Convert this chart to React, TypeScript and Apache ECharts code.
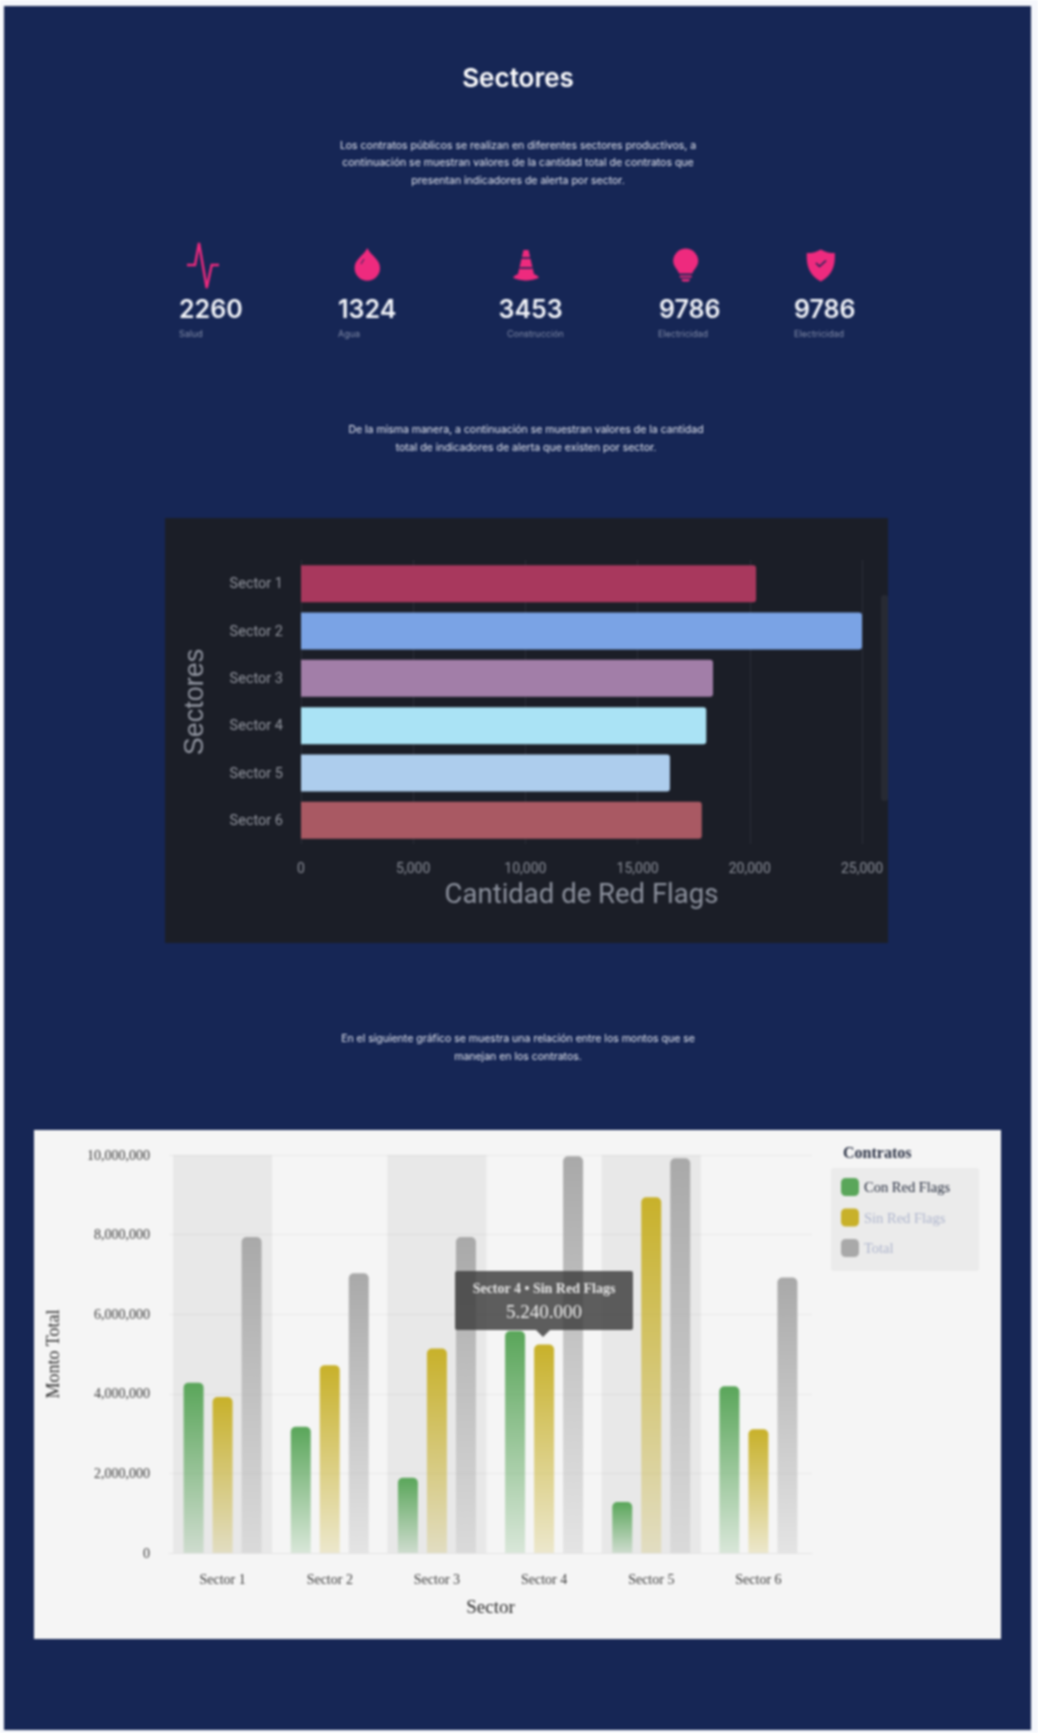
import React, { useEffect, useRef } from "react";
import * as echarts from "echarts";

const pageTitle = "Sectores";
const introLines = [
  "Los contratos públicos se realizan en diferentes sectores productivos, a",
  "continuación se muestran valores de la cantidad total de contratos que",
  "presentan indicadores de alerta por sector.",
];
const secondLines = [
  "De la misma manera, a continuación se muestran valores de la cantidad",
  "total de indicadores de alerta que existen por sector.",
];
const thirdLines = [
  "En el siguiente gráfico se muestra una relación entre los montos que se",
  "manejan en los contratos.",
];
const kpiValues = ["2260", "1324", "3453", "9786", "9786"];
const kpiLabels = ["Salud", "Agua", "Construcción", "Electricidad", "Electricidad"];
const kpiValueX = [179, 338, 498.5, 659, 794];
const kpiLabelX = [179, 338, 507, 658, 794];

const sectors = ["Sector 1", "Sector 2", "Sector 3", "Sector 4", "Sector 5", "Sector 6"];
const redFlagCounts = [20280, 25000, 18360, 18060, 16440, 17860];
const redFlagColors = ["#a8385d", "#7aa3e5", "#a27ea8", "#aae3f5", "#adcded", "#a95963"];

const conRedFlags = [4280000, 3170000, 1890000, 5580000, 1280000, 4190000];
const sinRedFlags = [3920000, 4720000, 5140000, 5240000, 8940000, 3110000];
const totals = [7940000, 7030000, 7940000, 9970000, 9920000, 6920000];
const shadedSectors = ["Sector 1", "Sector 3", "Sector 5"];
const legendNames = ["Con Red Flags", "Sin Red Flags", "Total"];

const SANS = "Inter, 'Noto Sans', sans-serif";
const SERIF = "'Liberation Serif', serif";
const PINK = "#ee2a7e";
const NAVY = "#162655";

echarts.graphic.registerShape("dropIcon", echarts.graphic.extendPath(
  "M0 -16 C 3 -9 12.7 -5 12.7 4 A 12.7 12.7 0 1 1 -12.7 4 C -12.7 -5 -3 -9 0 -16 Z", {}));
echarts.graphic.registerShape("coneIcon", echarts.graphic.extendPath(
  "M-2.5 -14 L2.5 -14 L8 10 C 10 11 12 12 13 13.5 C 10 15.5 4 16.5 0 16.5 C -4 16.5 -10 15.5 -13 13.5 C -12 12 -10 11 -8 10 Z", {}));
echarts.graphic.registerShape("bulbIcon", echarts.graphic.extendPath(
  "M0 -12.5 A 12.5 12.5 0 0 1 12.5 0 C 12.5 5 8.5 8 6.5 12.5 L-6.5 12.5 C -8.5 8 -12.5 5 -12.5 0 A 12.5 12.5 0 0 1 0 -12.5 Z M-6 14.5 L6 14.5 L6 16.5 L-6 16.5 Z M-4.5 18 L4.5 18 L3 20.5 L-3 20.5 Z", {}));
echarts.graphic.registerShape("shieldIcon", echarts.graphic.extendPath(
  "M0 -16 C 5 -13 9 -12.5 14 -12.5 C 14.5 -2 13 9 0 16 C -13 9 -14.5 -2 -14 -12.5 C -9 -12.5 -5 -13 0 -16 Z", {}));

function label(text: string, x: number, y: number, font: string, fill: string, align = "center", extra: any = {}) {
  return {
    type: "text",
    x,
    y,
    z: 5,
    ...extra,
    style: { text, font, fill, align, verticalAlign: "middle", textAlign: align, textVerticalAlign: "middle" },
  };
}

function barGradient(top: string, bottom: string) {
  return new echarts.graphic.LinearGradient(0, 0, 0, 1, [
    { offset: 0, color: top },
    { offset: 1, color: bottom },
  ]);
}

function buildOption(): any {
  const paragraphFont = `400 10.5px ${SANS}`;
  const paragraphColor = "#e6e9f2";
  const graphic: any[] = [
    { type: "rect", z: -20, shape: { x: 4, y: 6, width: 1027, height: 1724 }, style: { fill: NAVY } },
    { type: "rect", z: -19, shape: { x: 165, y: 518, width: 723, height: 425 }, style: { fill: "#1b1e27" } },
    { type: "rect", z: -18, shape: { x: 881, y: 595, width: 7, height: 206, r: 3 }, style: { fill: "#272a33" } },
    { type: "rect", z: -19, shape: { x: 34, y: 1130, width: 967, height: 509 }, style: { fill: "#f5f5f5" } },
    label(pageTitle, 518, 77, `600 26px ${SANS}`, "#ffffff"),
  ];
  introLines.forEach((t, i) => graphic.push(label(t, 518, 145 + i * 17.6, paragraphFont, paragraphColor)));
  secondLines.forEach((t, i) => graphic.push(label(t, 526, 429 + i * 18, paragraphFont, paragraphColor)));
  thirdLines.forEach((t, i) => graphic.push(label(t, 518, 1038 + i * 18, paragraphFont, paragraphColor)));
  kpiValues.forEach((t, i) => graphic.push(label(t, kpiValueX[i], 308.5, `600 25px ${SANS}`, "#f2f4f9", "left")));
  kpiLabels.forEach((t, i) => graphic.push(label(t, kpiLabelX[i], 333, `400 9px ${SANS}`, "#828ca8", "left")));

  // KPI icons
  graphic.push({
    type: "polyline",
    z: 5,
    shape: { points: [[187, 265], [195, 265], [199, 243], [206.7, 288], [211.7, 265], [219, 265]] },
    style: { stroke: PINK, lineWidth: 2.4, fill: "none" },
  });
  graphic.push({ type: "dropIcon", x: 367.3, y: 264, z: 5, style: { fill: PINK } });
  graphic.push({ type: "line", z: 6, shape: { x1: 361, y1: 264, x2: 364, y2: 259 }, style: { stroke: NAVY, lineWidth: 1 } });
  graphic.push({ type: "coneIcon", x: 526, y: 264, z: 5, style: { fill: PINK } });
  graphic.push({ type: "line", z: 6, shape: { x1: 521, y1: 258, x2: 531, y2: 258 }, style: { stroke: NAVY, lineWidth: 1.6 } });
  graphic.push({ type: "line", z: 6, shape: { x1: 519.5, y1: 268, x2: 532.5, y2: 268 }, style: { stroke: NAVY, lineWidth: 1.6 } });
  graphic.push({ type: "bulbIcon", x: 685.7, y: 261, z: 5, style: { fill: PINK } });
  graphic.push({ type: "shieldIcon", x: 820.8, y: 265.5, z: 5, style: { fill: PINK } });
  graphic.push({
    type: "polyline",
    z: 6,
    shape: { points: [[816, 263], [819.5, 266.5], [826, 260.5]] },
    style: { stroke: NAVY, lineWidth: 1.6, fill: "none" },
  });

  // Second chart's legend heading, and the pinned tooltip
  graphic.push(label("Contratos", 843, 1152, `700 16px ${SERIF}`, "#2b3245", "left"));
  graphic.push({ type: "rect", z: 50, shape: { x: 455, y: 1271, width: 178, height: 59, r: 2 }, style: { fill: "rgba(60,60,60,0.82)" } });
  graphic.push({ type: "polygon", z: 50, shape: { points: [[536, 1330], [550, 1330], [543, 1337]] }, style: { fill: "rgba(60,60,60,0.82)" } });
  graphic.push(label("Sector 4 • Sin Red Flags", 544, 1288, `700 14px ${SERIF}`, "#e6e6e6", "center", { z: 51 }));
  graphic.push(label("5.240.000", 544, 1311, `400 19px ${SERIF}`, "#f0f0f0", "center", { z: 51 }));

  const serifAxis = { fontFamily: SERIF, fontSize: 14, color: "#3d3d3d" };
  return {
    animation: false,
    backgroundColor: "#f5f7fc",
    graphic,
    grid: [
      { left: 301, top: 560, width: 561, height: 284 },
      { left: 169, top: 1155, width: 643, height: 398 },
    ],
    legend: {
      show: true,
      orient: "vertical",
      left: 831,
      top: 1168,
      padding: [10, 29, 14, 10],
      backgroundColor: "#ebebeb",
      borderRadius: 3,
      itemWidth: 18,
      itemHeight: 18,
      itemGap: 12.5,
      selectedMode: false,
      icon: "roundRect",
      textStyle: { fontFamily: SERIF, fontSize: 14.5 },
      data: [
        { name: legendNames[0], itemStyle: { color: "#5aa65a" }, textStyle: { color: "#1f2638" } },
        { name: legendNames[1], itemStyle: { color: "#c8b12a" }, textStyle: { color: "#aeb5cd" } },
        { name: legendNames[2], itemStyle: { color: "#a9a9a9" }, textStyle: { color: "#aeb5cd" } },
      ],
    },
    xAxis: [
      {
        gridIndex: 0,
        type: "value",
        min: 0,
        max: 25000,
        interval: 5000,
        name: "Cantidad de Red Flags",
        nameLocation: "middle",
        nameGap: 35,
        nameTextStyle: { fontFamily: "Roboto", fontSize: 27.5, color: "#8c919d" },
        axisLine: { show: false },
        axisTick: { show: false },
        axisLabel: { fontFamily: "Roboto", fontSize: 14, color: "#8b8f99", margin: 17 },
        splitLine: { lineStyle: { color: "#2b2e38", width: 1 } },
      },
      {
        gridIndex: 1,
        type: "category",
        data: sectors,
        name: "Sector",
        nameLocation: "middle",
        nameGap: 44,
        nameTextStyle: { fontFamily: SERIF, fontSize: 19, color: "#2e2e2e" },
        axisLine: { lineStyle: { color: "#e4e4e4" } },
        axisTick: { show: false },
        axisLabel: { ...serifAxis, margin: 19 },
      },
    ],
    yAxis: [
      {
        gridIndex: 0,
        type: "category",
        inverse: true,
        data: sectors,
        name: "Sectores",
        nameLocation: "middle",
        nameGap: 94,
        nameTextStyle: { fontFamily: "'Liberation Sans', sans-serif", fontSize: 27, color: "#9296a1" },
        axisLine: { show: false },
        axisTick: { show: false },
        axisLabel: { fontFamily: "Roboto", fontSize: 14.5, color: "#92959e", margin: 18 },
      },
      {
        gridIndex: 1,
        type: "value",
        min: 0,
        max: 10000000,
        interval: 2000000,
        name: "Monto Total",
        nameLocation: "middle",
        nameGap: 107,
        nameTextStyle: { fontFamily: SERIF, fontSize: 18, color: "#2e2e2e" },
        axisLine: { show: false },
        axisTick: { show: false },
        axisLabel: { ...serifAxis, margin: 19 },
        splitLine: { lineStyle: { color: "#e9e9e9", width: 1 } },
      },
    ],
    series: [
      {
        type: "bar",
        name: "Cantidad",
        xAxisIndex: 0,
        yAxisIndex: 0,
        barWidth: 37,
        data: redFlagCounts.map((value, i) => ({
          value,
          itemStyle: { color: redFlagColors[i], borderRadius: [0, 3, 3, 0] },
        })),
      },
      {
        type: "custom",
        name: "Banda",
        xAxisIndex: 1,
        yAxisIndex: 1,
        silent: true,
        z: 1,
        encode: { x: 0, y: 1 },
        data: shadedSectors.map((s) => [s, 10000000]),
        renderItem: (_: any, api: any) => {
          const top = api.coord([api.value(0), api.value(1)]);
          const base = api.coord([api.value(0), 0]);
          const w = api.size([1, 0])[0] * 0.925;
          return {
            type: "rect",
            shape: { x: top[0] - w / 2, y: top[1], width: w, height: base[1] - top[1] },
            style: { fill: "rgba(0,0,0,0.05)" },
          };
        },
      },
      {
        type: "bar",
        name: legendNames[0],
        xAxisIndex: 1,
        yAxisIndex: 1,
        barWidth: 20,
        barGap: "45%",
        data: conRedFlags,
        itemStyle: { color: barGradient("#5aa65a", "rgba(90,166,90,0.18)"), borderRadius: [5, 5, 0, 0] },
      },
      {
        type: "bar",
        name: legendNames[1],
        xAxisIndex: 1,
        yAxisIndex: 1,
        barWidth: 20,
        barGap: "45%",
        data: sinRedFlags,
        itemStyle: { color: barGradient("#c8b12a", "rgba(200,177,42,0.2)"), borderRadius: [5, 5, 0, 0] },
      },
      {
        type: "bar",
        name: legendNames[2],
        xAxisIndex: 1,
        yAxisIndex: 1,
        barWidth: 20,
        barGap: "45%",
        data: totals,
        itemStyle: { color: barGradient("#a9a9a9", "rgba(169,169,169,0.22)"), borderRadius: [5, 5, 0, 0] },
      },
    ],
  };
}

export default function App() {
  const ref = useRef<HTMLDivElement>(null);
  useEffect(() => {
    document.body.style.margin = "0";
    const chart = echarts.init(ref.current!, undefined, { renderer: "svg" });
    chart.setOption(buildOption());
    return () => chart.dispose();
  }, []);
  return <div ref={ref} style={{ width: 1038, height: 1733, filter: "blur(0.8px)" }} />;
}
